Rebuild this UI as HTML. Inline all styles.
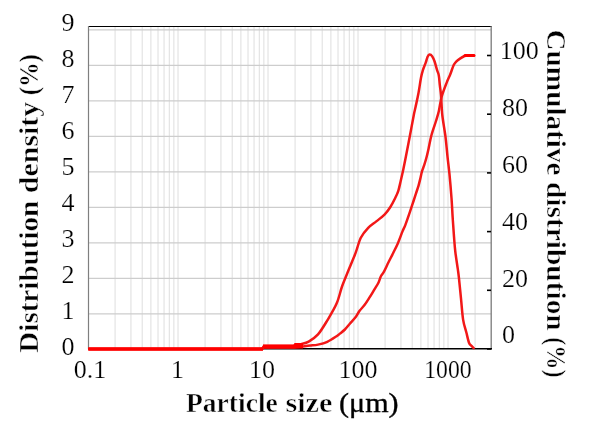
<!DOCTYPE html>
<html><head><meta charset="utf-8"><style>
html,body{margin:0;padding:0;background:#fff;width:592px;height:429px;overflow:hidden}
svg{display:block;will-change:transform;filter:blur(0.3px)}
.t{font-family:"Liberation Serif",serif;font-size:26px;fill:#000;stroke:#fff;stroke-width:0.2px}
.r{font-family:"Liberation Serif",serif;font-size:28px;fill:#000;stroke:#000;stroke-width:0.35px}
.b{font-family:"Liberation Serif",serif;font-size:28px;font-weight:bold;fill:#000;stroke:#fff;stroke-width:0.5px}
</style></head><body>
<svg width="592" height="429" viewBox="0 0 592 429">
<rect x="0" y="0" width="592" height="429" fill="#fff"/>
<line x1="115.09" y1="26" x2="115.09" y2="348" stroke="#dedede" stroke-width="1"/>
<line x1="130.94" y1="26" x2="130.94" y2="348" stroke="#dedede" stroke-width="1"/>
<line x1="142.19" y1="26" x2="142.19" y2="348" stroke="#dedede" stroke-width="1"/>
<line x1="150.91" y1="26" x2="150.91" y2="348" stroke="#dedede" stroke-width="1"/>
<line x1="158.03" y1="26" x2="158.03" y2="348" stroke="#dedede" stroke-width="1"/>
<line x1="164.06" y1="26" x2="164.06" y2="348" stroke="#dedede" stroke-width="1"/>
<line x1="169.28" y1="26" x2="169.28" y2="348" stroke="#dedede" stroke-width="1"/>
<line x1="173.88" y1="26" x2="173.88" y2="348" stroke="#dedede" stroke-width="1"/>
<line x1="178.00" y1="26" x2="178.00" y2="348" stroke="#dedede" stroke-width="1"/>
<line x1="205.09" y1="26" x2="205.09" y2="348" stroke="#dedede" stroke-width="1"/>
<line x1="220.94" y1="26" x2="220.94" y2="348" stroke="#dedede" stroke-width="1"/>
<line x1="232.19" y1="26" x2="232.19" y2="348" stroke="#dedede" stroke-width="1"/>
<line x1="240.91" y1="26" x2="240.91" y2="348" stroke="#dedede" stroke-width="1"/>
<line x1="248.03" y1="26" x2="248.03" y2="348" stroke="#dedede" stroke-width="1"/>
<line x1="254.06" y1="26" x2="254.06" y2="348" stroke="#dedede" stroke-width="1"/>
<line x1="259.28" y1="26" x2="259.28" y2="348" stroke="#dedede" stroke-width="1"/>
<line x1="263.88" y1="26" x2="263.88" y2="348" stroke="#dedede" stroke-width="1"/>
<line x1="268.00" y1="26" x2="268.00" y2="348" stroke="#dedede" stroke-width="1"/>
<line x1="295.09" y1="26" x2="295.09" y2="348" stroke="#dedede" stroke-width="1"/>
<line x1="310.94" y1="26" x2="310.94" y2="348" stroke="#dedede" stroke-width="1"/>
<line x1="322.19" y1="26" x2="322.19" y2="348" stroke="#dedede" stroke-width="1"/>
<line x1="330.91" y1="26" x2="330.91" y2="348" stroke="#dedede" stroke-width="1"/>
<line x1="338.03" y1="26" x2="338.03" y2="348" stroke="#dedede" stroke-width="1"/>
<line x1="344.06" y1="26" x2="344.06" y2="348" stroke="#dedede" stroke-width="1"/>
<line x1="349.28" y1="26" x2="349.28" y2="348" stroke="#dedede" stroke-width="1"/>
<line x1="353.88" y1="26" x2="353.88" y2="348" stroke="#dedede" stroke-width="1"/>
<line x1="358.00" y1="26" x2="358.00" y2="348" stroke="#dedede" stroke-width="1"/>
<line x1="385.09" y1="26" x2="385.09" y2="348" stroke="#dedede" stroke-width="1"/>
<line x1="400.94" y1="26" x2="400.94" y2="348" stroke="#dedede" stroke-width="1"/>
<line x1="412.19" y1="26" x2="412.19" y2="348" stroke="#dedede" stroke-width="1"/>
<line x1="420.91" y1="26" x2="420.91" y2="348" stroke="#dedede" stroke-width="1"/>
<line x1="428.03" y1="26" x2="428.03" y2="348" stroke="#dedede" stroke-width="1"/>
<line x1="434.06" y1="26" x2="434.06" y2="348" stroke="#dedede" stroke-width="1"/>
<line x1="439.28" y1="26" x2="439.28" y2="348" stroke="#dedede" stroke-width="1"/>
<line x1="443.88" y1="26" x2="443.88" y2="348" stroke="#dedede" stroke-width="1"/>
<line x1="448.00" y1="26" x2="448.00" y2="348" stroke="#dedede" stroke-width="1"/>
<line x1="475.09" y1="26" x2="475.09" y2="348" stroke="#dedede" stroke-width="1"/>
<line x1="88" y1="29.80" x2="491" y2="29.80" stroke="#cdcdcd" stroke-width="1.2"/>
<line x1="88" y1="65.30" x2="491" y2="65.30" stroke="#cdcdcd" stroke-width="1.2"/>
<line x1="88" y1="100.80" x2="491" y2="100.80" stroke="#cdcdcd" stroke-width="1.2"/>
<line x1="88" y1="136.30" x2="491" y2="136.30" stroke="#cdcdcd" stroke-width="1.2"/>
<line x1="88" y1="171.80" x2="491" y2="171.80" stroke="#cdcdcd" stroke-width="1.2"/>
<line x1="88" y1="207.30" x2="491" y2="207.30" stroke="#cdcdcd" stroke-width="1.2"/>
<line x1="88" y1="242.80" x2="491" y2="242.80" stroke="#cdcdcd" stroke-width="1.2"/>
<line x1="88" y1="278.30" x2="491" y2="278.30" stroke="#cdcdcd" stroke-width="1.2"/>
<line x1="88" y1="313.80" x2="491" y2="313.80" stroke="#cdcdcd" stroke-width="1.2"/>
<line x1="88" y1="26.5" x2="492" y2="26.5" stroke="#000" stroke-width="1.2"/>
<line x1="88.5" y1="26" x2="88.5" y2="349" stroke="#7f7f7f" stroke-width="1.2"/>
<line x1="491.2" y1="26" x2="491.2" y2="349.5" stroke="#7a7a7a" stroke-width="1.3"/>
<line x1="88" y1="348.7" x2="492" y2="348.7" stroke="#000" stroke-width="1.5"/>
<line x1="487" y1="55.5" x2="491" y2="55.5" stroke="#000" stroke-width="1.6"/>
<line x1="487" y1="114.2" x2="491" y2="114.2" stroke="#000" stroke-width="1.6"/>
<line x1="487" y1="172.9" x2="491" y2="172.9" stroke="#000" stroke-width="1.6"/>
<line x1="487" y1="231.6" x2="491" y2="231.6" stroke="#000" stroke-width="1.6"/>
<line x1="487" y1="290.3" x2="491" y2="290.3" stroke="#000" stroke-width="1.6"/>
<line x1="487" y1="349.0" x2="491" y2="349.0" stroke="#000" stroke-width="1.6"/>
<path d="M89.4,349.0 L262.0,349.0 L263.0,347.6 L294.0,347.4 L303.0,346.4 C304.17,346.27 307.50,345.90 310.0,345.6 C312.50,345.30 315.12,345.23 318.0,344.6 C320.88,343.97 324.20,343.20 327.3,341.8 C330.40,340.40 334.48,337.57 336.6,336.2 C338.72,334.83 338.62,334.72 340.0,333.6 C341.38,332.48 343.27,331.13 344.9,329.5 C346.53,327.87 348.03,325.83 349.8,323.8 C351.57,321.77 353.87,319.47 355.5,317.3 C357.13,315.13 358.10,312.83 359.6,310.8 C361.10,308.77 362.87,307.28 364.5,305.1 C366.13,302.92 367.77,300.28 369.4,297.7 C371.03,295.12 372.82,292.05 374.3,289.6 C375.78,287.15 377.22,285.18 378.3,283.0 C379.38,280.82 379.85,278.40 380.8,276.5 C381.75,274.60 382.72,273.97 384.0,271.6 C385.28,269.23 386.97,265.40 388.5,262.3 C390.03,259.20 391.65,256.15 393.2,253.0 C394.75,249.85 396.25,247.00 397.8,243.4 C399.35,239.80 401.25,234.45 402.5,231.4 C403.75,228.35 404.13,228.13 405.3,225.1 C406.47,222.07 408.10,217.30 409.5,213.2 C410.90,209.10 412.60,203.85 413.7,200.5 C414.80,197.15 415.32,195.50 416.1,193.1 C416.88,190.70 417.72,188.43 418.4,186.1 C419.08,183.77 419.62,181.52 420.2,179.1 C420.78,176.68 421.23,173.92 421.9,171.6 C422.57,169.28 423.42,167.63 424.2,165.2 C424.98,162.77 425.87,159.78 426.6,157.0 C427.33,154.22 427.78,152.17 428.6,148.5 C429.42,144.83 430.27,139.58 431.5,135.0 C432.73,130.42 434.78,124.97 436.0,121.0 C437.22,117.03 437.87,115.20 438.8,111.2 C439.73,107.20 440.28,101.77 441.6,97.0 C442.92,92.23 445.27,86.35 446.7,82.6 C448.13,78.85 449.05,77.40 450.2,74.5 C451.35,71.60 452.60,67.35 453.6,65.2 C454.60,63.05 455.13,62.70 456.2,61.6 C457.27,60.50 458.62,59.53 460.0,58.6 C461.38,57.67 463.17,56.52 464.5,56.0 C465.83,55.48 466.45,55.58 468.0,55.5 C469.55,55.42 472.83,55.50 473.8,55.5" fill="none" stroke="#f21818" stroke-width="2.5" stroke-linejoin="round" stroke-linecap="round"/>
<path d="M89.4,349.0 L262.5,349.0 L263.5,346.4 L294.0,346.2 L295.0,344.6 L301.2,344.2 C302.45,343.77 305.90,343.23 308.7,341.6 C311.50,339.97 314.90,337.93 318.0,334.4 C321.10,330.87 324.20,325.53 327.3,320.4 C330.40,315.27 334.12,309.33 336.6,303.6 C339.08,297.87 340.20,291.60 342.2,286.0 C344.20,280.40 346.37,275.52 348.6,270.0 C350.83,264.48 353.57,258.27 355.6,252.9 C357.63,247.53 358.70,241.97 360.8,237.8 C362.90,233.63 365.62,230.63 368.2,227.9 C370.78,225.17 373.58,223.62 376.3,221.4 C379.02,219.18 382.18,216.97 384.5,214.6 C386.82,212.23 388.43,209.93 390.2,207.2 C391.97,204.47 393.75,200.93 395.1,198.2 C396.45,195.47 397.37,193.67 398.3,190.8 C399.23,187.93 399.87,184.55 400.7,181.0 C401.53,177.45 402.43,173.57 403.3,169.5 C404.17,165.43 404.80,162.22 405.9,156.6 C407.00,150.98 408.58,142.73 409.9,135.8 C411.22,128.87 412.87,119.77 413.8,115.0 C414.73,110.23 414.75,110.68 415.5,107.2 C416.25,103.72 417.37,99.08 418.3,94.1 C419.23,89.12 420.32,81.33 421.1,77.3 C421.88,73.27 422.22,72.38 423.0,69.9 C423.78,67.42 425.03,64.58 425.8,62.4 C426.57,60.22 426.98,58.10 427.6,56.8 C428.22,55.50 428.72,54.67 429.5,54.6 C430.28,54.53 431.45,55.25 432.3,56.4 C433.15,57.55 433.82,59.25 434.6,61.5 C435.38,63.75 436.30,67.58 437.0,69.9 C437.70,72.22 438.33,72.92 438.8,75.4 C439.27,77.88 439.42,81.37 439.8,84.8 C440.18,88.23 440.68,90.97 441.1,96.0 C441.52,101.03 441.57,108.20 442.3,115.0 C443.03,121.80 444.63,129.87 445.5,136.8 C446.37,143.73 446.83,150.33 447.5,156.6 C448.17,162.87 448.83,167.50 449.5,174.4 C450.17,181.30 450.97,190.73 451.5,198.0 C452.03,205.27 452.28,211.57 452.7,218.0 C453.12,224.43 453.57,231.00 454.0,236.6 C454.43,242.20 454.68,246.30 455.3,251.6 C455.92,256.90 457.10,264.07 457.7,268.4 C458.30,272.73 458.35,272.57 458.9,277.6 C459.45,282.63 460.30,291.60 461.0,298.6 C461.70,305.60 462.22,314.00 463.1,319.6 C463.98,325.20 465.32,328.35 466.3,332.2 C467.28,336.05 468.13,340.42 469.0,342.7 C469.87,344.98 470.73,345.02 471.5,345.9 C472.27,346.78 473.25,347.65 473.6,348.0" fill="none" stroke="#f21818" stroke-width="2.5" stroke-linejoin="round" stroke-linecap="round"/>
<line x1="88.2" y1="349" x2="263" y2="349" stroke="#f00" stroke-width="3.6"/>
<rect x="263" y="344.4" width="40" height="4.1" fill="#f00"/>
<rect x="294.5" y="343" width="8.5" height="5" fill="#f00"/>
<line x1="465" y1="55.6" x2="474" y2="55.6" stroke="#f00" stroke-width="3" stroke-linecap="round"/>
<text x="74.5" y="355.0" text-anchor="end" class="t">0</text>
<text x="74.5" y="319.0" text-anchor="end" class="t">1</text>
<text x="74.5" y="283.0" text-anchor="end" class="t">2</text>
<text x="74.5" y="247.0" text-anchor="end" class="t">3</text>
<text x="74.5" y="211.0" text-anchor="end" class="t">4</text>
<text x="74.5" y="175.0" text-anchor="end" class="t">5</text>
<text x="74.5" y="139.0" text-anchor="end" class="t">6</text>
<text x="74.5" y="103.0" text-anchor="end" class="t">7</text>
<text x="74.5" y="67.0" text-anchor="end" class="t">8</text>
<text x="74.5" y="31.0" text-anchor="end" class="t">9</text>
<text x="502" y="343.4" class="t">0</text>
<text x="502" y="286.5" class="t">20</text>
<text x="502" y="229.7" class="t">40</text>
<text x="502" y="172.8" class="t">60</text>
<text x="502" y="116.0" class="t">80</text>
<text x="499.7" y="59.1" class="t">100</text>
<text x="90.1" y="378" text-anchor="middle" class="t">0.1</text>
<text x="177.5" y="378" text-anchor="middle" class="t">1</text>
<text x="262.1" y="378" text-anchor="middle" class="t">10</text>
<text x="357.9" y="378" text-anchor="middle" class="t">100</text>
<text x="447.9" y="378" text-anchor="middle" class="t" textLength="47.4" lengthAdjust="spacingAndGlyphs">1000</text>
<text class="b" transform="translate(37.8,352.1) rotate(-90)" x="-0.6" textLength="152.0" lengthAdjust="spacingAndGlyphs">Distribution</text>
<text class="b" transform="translate(37.8,192.6) rotate(-90)" x="-0.6" textLength="91.3" lengthAdjust="spacingAndGlyphs">density</text>
<text class="b" transform="translate(37.8,94.7) rotate(-90)" x="-0.6" textLength="41.099999999999994" lengthAdjust="spacingAndGlyphs">(%)</text>
<text class="b" transform="translate(547.2,30.7) rotate(90)" x="-1.2" textLength="146.0" lengthAdjust="spacingAndGlyphs">Cumulative</text>
<text class="b" transform="translate(547.2,183.2) rotate(90)" x="-1.2" textLength="148.7" lengthAdjust="spacingAndGlyphs">distribution</text>
<text class="b" transform="translate(547.2,338.5) rotate(90)" x="-1.2" textLength="40.2" lengthAdjust="spacingAndGlyphs">(%)</text>
<text class="b" x="186.0" y="411.5" textLength="91.80000000000001" lengthAdjust="spacingAndGlyphs">Particle</text>
<text class="b" x="285.4" y="411.5" textLength="47.1" lengthAdjust="spacingAndGlyphs">size</text>
<text class="r" x="339.0" y="411.5" textLength="59.6" lengthAdjust="spacingAndGlyphs">(μm)</text>
</svg>
</body></html>
